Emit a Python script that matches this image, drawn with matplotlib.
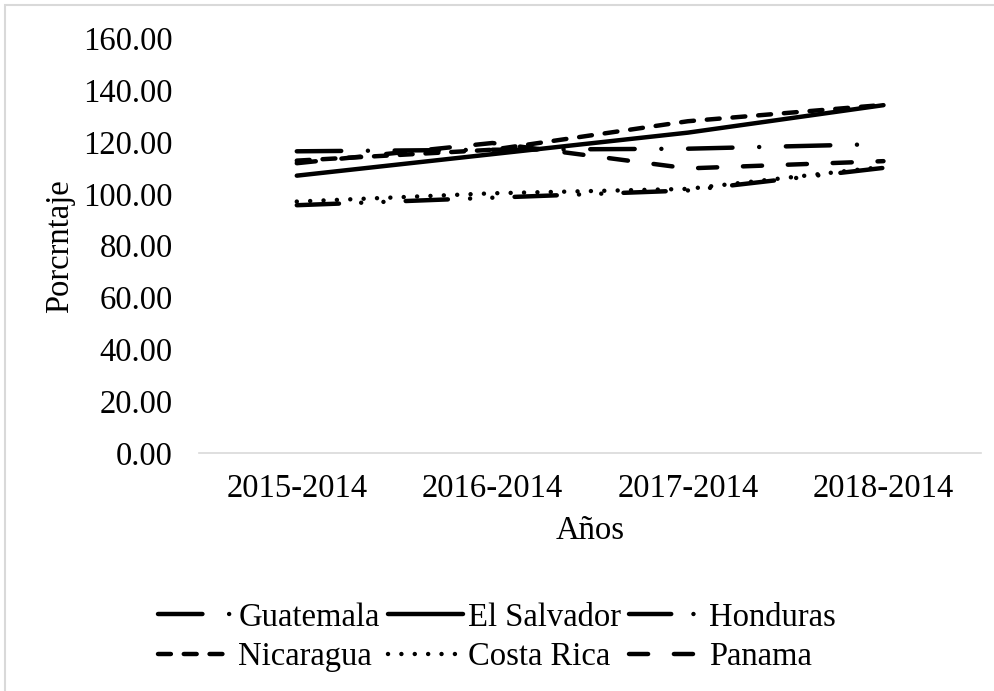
import numpy as np
import matplotlib.pyplot as plt
from matplotlib.patches import Rectangle

plt.rcParams['font.family'] = ['Liberation Serif', 'DejaVu Serif']

# datos
periodos = ['2015-2014', '2016-2014', '2017-2014', '2018-2014']
guatemala = [116.4, 117.0, 117.4, 119.2]
el_salvador = [107.0, 115.3, 123.6, 134.2]
honduras = [95.6, 98.5, 101.3, 110.0]
nicaragua = [112.8, 117.0, 128.0, 134.3]
costa_rica = [97.0, 100.2, 101.9, 110.4]
panama = [111.8, 119.6, 109.8, 112.6]

fs = 23.5
fig = plt.figure(figsize=(9.94, 6.91), dpi=100)
ax = fig.add_axes([0.2002, 0.3444, 0.787, 0.6002])

lw = 3.2
x = np.arange(len(periodos))
series = [
    ('Guatemala', guatemala, (0, (10, 6, 0.01, 6))),
    ('El Salvador', el_salvador, '-'),
    ('Honduras', honduras, (0, (9.5, 5, 0.01, 5, 0.01, 5))),
    ('Nicaragua', nicaragua, (0, (2.9, 2.9))),
    ('Costa Rica', costa_rica, (0, (0.01, 3))),
    ('Panama', panama, (0, (4.3, 5.8))),
]
lineas = {}
for nombre, valores, estilo in series:
    l, = ax.plot(x, valores, color='black', lw=lw, linestyle=estilo,
                 dash_capstyle='round', solid_capstyle='round', label=nombre)
    lineas[nombre] = l

ax.set_xlim(-0.5, len(periodos) - 0.5)
ax.set_ylim(0, 160)
ax.set_yticks(np.arange(0, 161, 20))
ax.set_yticklabels(['%.2f' % v for v in np.arange(0, 161, 20)])
ax.set_xticks(x)
ax.set_xticklabels(periodos)
ax.tick_params(axis='both', length=0, labelsize=fs)
ax.tick_params(axis='y', pad=19)
ax.tick_params(axis='x', pad=15)

for lado in ['top', 'right', 'left']:
    ax.spines[lado].set_visible(False)
ax.spines['bottom'].set_color('#d9d9d9')
ax.spines['bottom'].set_linewidth(1.2)

ax.set_xlabel('Años', fontsize=fs, labelpad=8)
ax.set_ylabel('Porcrntaje', fontsize=fs, labelpad=6)

# orden de la leyenda (3 columnas, se llena por columnas)
orden = ['Guatemala', 'Nicaragua', 'El Salvador', 'Costa Rica', 'Honduras', 'Panama']
fig.legend([lineas[n] for n in orden], orden, loc='center', ncol=3,
           bbox_to_anchor=(0.5, 0.078), frameon=False, fontsize=fs,
           handlelength=2.3, handletextpad=0.15, columnspacing=0.25,
           labelspacing=0.28)

# borde del area del grafico
fig.patches.append(Rectangle((5 / 994, -0.01), 1.0, 1 - 5 / 691 + 0.01,
                             transform=fig.transFigure, fill=False,
                             edgecolor='#d9d9d9', lw=1.5))

fig.savefig('out.png', dpi=100)
